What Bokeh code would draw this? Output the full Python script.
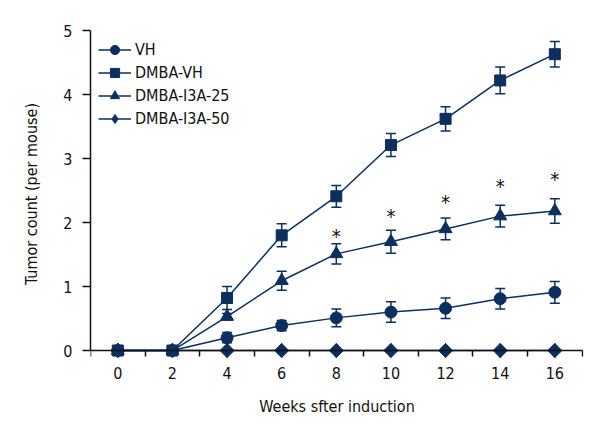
import math
from bokeh.plotting import figure
from bokeh.models import (ColumnDataSource, FixedTicker, Whisker, TeeHead, Legend, LegendItem,
                          Range1d, LinearAxis)
from bokeh.core.properties import value
from bokeh.embed import file_html
from bokeh.resources import INLINE

weeks = [0, 2, 4, 6, 8, 10, 12, 14, 16]
vh = [0, 0, 0.20, 0.39, 0.51, 0.60, 0.66, 0.81, 0.91]
vh_err = [0, 0, 0.08, 0.08, 0.14, 0.16, 0.16, 0.16, 0.17]
dmba_vh = [0, 0, 0.82, 1.80, 2.41, 3.21, 3.62, 4.22, 4.63]
dmba_vh_err = [0, 0, 0.18, 0.18, 0.17, 0.18, 0.19, 0.21, 0.20]
i3a25 = [0, 0, 0.53, 1.09, 1.51, 1.70, 1.90, 2.10, 2.18]
i3a25_err = [0, 0, 0.05, 0.15, 0.16, 0.18, 0.17, 0.17, 0.19]
i3a50 = [0, 0, 0, 0, 0, 0, 0, 0, 0]
i3a50_err = [0, 0, 0, 0, 0, 0, 0, 0, 0]
sig_weeks = [8, 10, 12, 14, 16]
sig_y = [1.81, 2.12, 2.33, 2.58, 2.70]
series_names = ["VH", "DMBA-VH", "DMBA-I3A-25", "DMBA-I3A-50"]
markers = ["circle", "square", "triangle", "square"]
marker_angles = [0, 0, 0, math.pi / 4]
marker_sizes = [12, 11, 13, 10]
legend_markers = ["circle", "square", "triangle", "diamond"]

x_ticks = [0, 2, 4, 6, 8, 10, 12, 14, 16]
x_minor = [-1, 1, 3, 5, 7, 9, 11, 13, 15, 17]
y_ticks = [0, 1, 2, 3, 4, 5]

NAVY = "#0c2f5f"
INK = "#111111"
FONT = "'DejaVu Sans Condensed', sans-serif"

p = figure(frame_width=493, frame_height=333, output_backend="svg", toolbar_location=None,
           x_range=Range1d(-1.0, 17.05), y_range=Range1d(-0.156, 5.047),
           min_border_left=90, min_border_top=27, min_border_right=5, min_border_bottom=72)
p.outline_line_color = None
p.grid.visible = False
p.background_fill_color = "white"

items = []
all_vals = [vh, dmba_vh, i3a25, i3a50]
all_errs = [vh_err, dmba_vh_err, i3a25_err, i3a50_err]
for name, vals, errs, mk, ang, ms, lmk in zip(series_names, all_vals, all_errs, markers,
                                              marker_angles, marker_sizes, legend_markers):
    src = ColumnDataSource(dict(x=weeks, y=vals,
                                lo=[v - e for v, e in zip(vals, errs)],
                                hi=[v + e for v, e in zip(vals, errs)]))
    if max(errs) > 0:
        w = Whisker(base="x", lower="lo", upper="hi", source=src, dimension="height",
                    line_color=NAVY, line_width=1.5,
                    upper_head=TeeHead(size=10, line_color=NAVY, line_width=1.5),
                    lower_head=TeeHead(size=10, line_color=NAVY, line_width=1.5))
        p.add_layout(w)
    r1 = p.line("x", "y", source=src, line_color=NAVY, line_width=1.5)
    r2 = p.scatter("x", "y", source=src, marker=mk, size=ms, angle=ang,
                   fill_color=NAVY, line_color=NAVY)
    if lmk != mk:
        # same points as a plain diamond: shapes the marker and gives the legend key
        r2 = p.scatter("x", "y", source=src, marker=lmk, size=14,
                       fill_color=NAVY, line_color=NAVY)
    items.append(LegendItem(label=name, renderers=[r1, r2]))

p.text(x=sig_weeks, y=sig_y, text=["*"] * len(sig_weeks), text_align="center",
       text_baseline="middle", text_font=value(FONT), text_font_size="20px",
       text_color=INK, y_offset=1)

legend = Legend(items=items, location=(8, 230), margin=0, padding=2, spacing=0,
                label_height=20, glyph_height=23, glyph_width=33, label_standoff=4,
                border_line_color=None, background_fill_alpha=0,
                label_text_font=FONT, label_text_font_size="16px", label_text_color=INK)
p.add_layout(legend)

# labels-only x axis (bottom panel)
xa = p.xaxis[0]
xa.ticker = FixedTicker(ticks=x_ticks)
xa.axis_line_color = None
xa.major_tick_line_color = None
xa.minor_tick_line_color = None
xa.major_tick_out = 0
xa.major_tick_in = 0
xa.major_label_standoff = 6
xa.axis_label = "Weeks sfter induction"
xa.axis_label_standoff = 15

# x axis line and ticks at y = 0
x0 = LinearAxis(fixed_location=0, bounds=(-1, 17),
                ticker=FixedTicker(ticks=[], minor_ticks=x_minor))
x0.axis_line_color = INK
x0.axis_line_width = 1.5
x0.major_tick_line_color = None
x0.major_tick_out = 0
x0.major_tick_in = 0
x0.minor_tick_out = 6
x0.minor_tick_in = 0
x0.minor_tick_line_color = INK
x0.minor_tick_line_width = 1.5
x0.major_label_standoff = 0
p.add_layout(x0, "below")

ya = p.yaxis[0]
ya.bounds = (0, 5)
ya.ticker = FixedTicker(ticks=y_ticks)
ya.minor_tick_line_color = None
ya.major_tick_out = 8
ya.major_tick_in = 0
ya.major_tick_line_width = 1.5
ya.major_tick_line_color = INK
ya.axis_line_color = INK
ya.axis_line_width = 1.5
ya.major_label_standoff = 10
ya.axis_label = "Tumor count (per mouse)"
ya.axis_label_standoff = 19

for ax in (xa, ya):
    ax.major_label_text_font = FONT
    ax.major_label_text_font_size = "16px"
    ax.major_label_text_color = INK
    ax.axis_label_text_font = FONT
    ax.axis_label_text_font_size = "16px"
    ax.axis_label_text_font_style = "normal"
    ax.axis_label_text_color = INK

open("out.html", "w").write(file_html(p, INLINE))
